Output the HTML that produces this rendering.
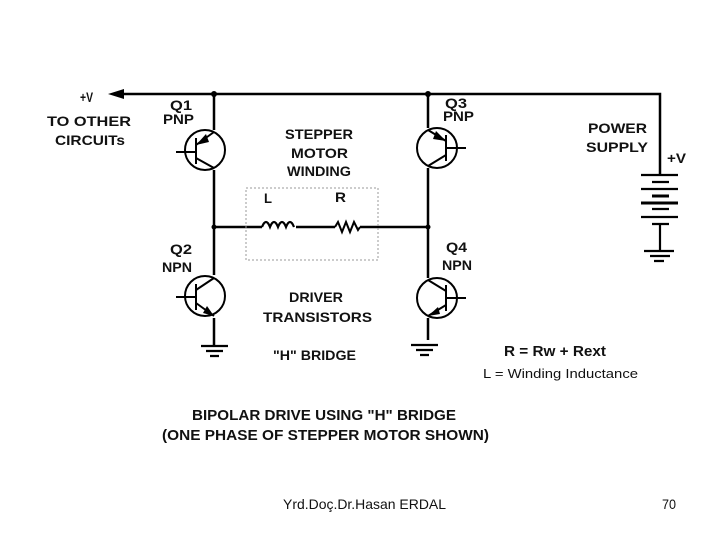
<!DOCTYPE html>
<html><head><style>
body{margin:0;width:720px;height:540px;background:#fff;overflow:hidden}
svg{display:block}
text{font-family:"Liberation Sans",Arial,sans-serif;font-weight:bold;fill:#111}
</style></head><body>
<svg width="720" height="540" viewBox="0 0 720 540">
<g stroke="#000" stroke-width="2.5" fill="none">
<path d="M120 94 H660 V175"/>
<path d="M214 94 V130 M214 170 V275 M214 318 V345"/>
<path d="M428 94 V128 M428 168 V278 M428 318 V340"/>
<path d="M214 227 H262 M296 227 H335 M360 227 H428"/>
</g>
<polygon points="108,94 124,89 124,99" fill="#000"/>
<circle cx="214" cy="94" r="3" fill="#000"/><circle cx="428" cy="94" r="3" fill="#000"/>
<circle cx="214" cy="227" r="2.5" fill="#000"/><circle cx="428" cy="227" r="2.5" fill="#000"/>
<path d="M262 227 q4 -10 8 0 q4 -10 8 0 q4 -10 8 0 q4 -10 8 0" stroke="#000" stroke-width="2.2" fill="none"/>
<path d="M335 227 l3 -5 l4 10 l4 -10 l4 10 l4 -10 l4 8 l2 -3" stroke="#000" stroke-width="2" fill="none"/>
<rect x="246" y="188" width="132" height="72" fill="none" stroke="#999" stroke-width="1" stroke-dasharray="2,2"/>
<g stroke="#000" stroke-width="2" fill="none">
<circle cx="205" cy="150" r="20"/>
<path d="M176 152 H196 M196 138 V164 M196 145 L214 132 M196 158 L214 168"/>
<circle cx="205" cy="296" r="20"/>
<path d="M176 297 H196 M196 284 V310 M196 290 L214 278 M196 303 L214 316"/>
<circle cx="437" cy="148" r="20"/>
<path d="M466 148 H446 M446 135 V161 M446 141 L428 130 M446 155 L428 166"/>
<circle cx="437" cy="298" r="20"/>
<path d="M466 298 H446 M446 285 V311 M446 291 L428 280 M446 305 L428 316"/>
</g>
<polygon points="196,145 206,134 209,142" fill="#000"/>
<polygon points="214,316 203,313 207,306" fill="#000"/>
<polygon points="446,141 436,131 433,139" fill="#000"/>
<polygon points="428,316 438,307 440,314" fill="#000"/>
<g stroke="#000" stroke-width="2.2">
<path d="M201 346 H228 M206 351 H223 M210 356 H219"/>
<path d="M411 345 H438 M416 350 H433 M420 355 H429"/>
<path d="M641 175 H678 M652 182 H669 M641 189 H678 M652 209 H669 M641 217 H678 M652 224 H669 M660 224 V251 M644 251 H674 M650 256 H670 M654 261 H664"/>
<path d="M652 196 H669 M641 203 H678" stroke-width="3"/>
</g>
<g font-size="14" lengthAdjust="spacingAndGlyphs">
<text x="80" y="102" textLength="13" lengthAdjust="spacingAndGlyphs">+V</text>
<text x="47" y="126" textLength="84" lengthAdjust="spacingAndGlyphs">TO  OTHER</text>
<text x="55" y="145" textLength="70" lengthAdjust="spacingAndGlyphs">CIRCUITs</text>
<text x="170" y="110" textLength="22" lengthAdjust="spacingAndGlyphs">Q1</text>
<text x="163" y="124" textLength="31" lengthAdjust="spacingAndGlyphs">PNP</text>
<text x="445" y="108" textLength="22" lengthAdjust="spacingAndGlyphs">Q3</text>
<text x="443" y="121" textLength="31" lengthAdjust="spacingAndGlyphs">PNP</text>
<text x="285" y="139" textLength="68" lengthAdjust="spacingAndGlyphs">STEPPER</text>
<text x="291" y="158" textLength="57" lengthAdjust="spacingAndGlyphs">MOTOR</text>
<text x="287" y="176" textLength="64" lengthAdjust="spacingAndGlyphs">WINDING</text>
<text x="264" y="203" textLength="8" lengthAdjust="spacingAndGlyphs">L</text>
<text x="335" y="202" textLength="11" lengthAdjust="spacingAndGlyphs">R</text>
<text x="170" y="254" textLength="22" lengthAdjust="spacingAndGlyphs">Q2</text>
<text x="162" y="272" textLength="30" lengthAdjust="spacingAndGlyphs">NPN</text>
<text x="446" y="252" textLength="21" lengthAdjust="spacingAndGlyphs">Q4</text>
<text x="442" y="270" textLength="30" lengthAdjust="spacingAndGlyphs">NPN</text>
<text x="289" y="302" textLength="54" lengthAdjust="spacingAndGlyphs">DRIVER</text>
<text x="263" y="322" textLength="109" lengthAdjust="spacingAndGlyphs">TRANSISTORS</text>
<text x="273" y="360" textLength="83" lengthAdjust="spacingAndGlyphs">"H" BRIDGE</text>
<text x="588" y="133" textLength="59" lengthAdjust="spacingAndGlyphs">POWER</text>
<text x="586" y="152" textLength="62" lengthAdjust="spacingAndGlyphs">SUPPLY</text>
<text x="667" y="163" textLength="19" lengthAdjust="spacingAndGlyphs">+V</text>
<text x="504" y="356" font-size="15" textLength="102" lengthAdjust="spacingAndGlyphs">R = Rw + Rext</text>
<text x="483" y="378" font-size="13" style="font-weight:normal" textLength="155" lengthAdjust="spacingAndGlyphs">L = Winding  Inductance</text>
<text x="192" y="420" font-size="15" textLength="264" lengthAdjust="spacingAndGlyphs">BIPOLAR DRIVE USING "H" BRIDGE</text>
<text x="162" y="440" font-size="15" textLength="327" lengthAdjust="spacingAndGlyphs">(ONE PHASE OF STEPPER MOTOR SHOWN)</text>
<text x="283" y="509" style="font-weight:normal" textLength="163" lengthAdjust="spacingAndGlyphs">Yrd.Doç.Dr.Hasan ERDAL</text>
<text x="662" y="509" style="font-weight:normal" textLength="14" lengthAdjust="spacingAndGlyphs">70</text>
</g>
</svg>
</body></html>
